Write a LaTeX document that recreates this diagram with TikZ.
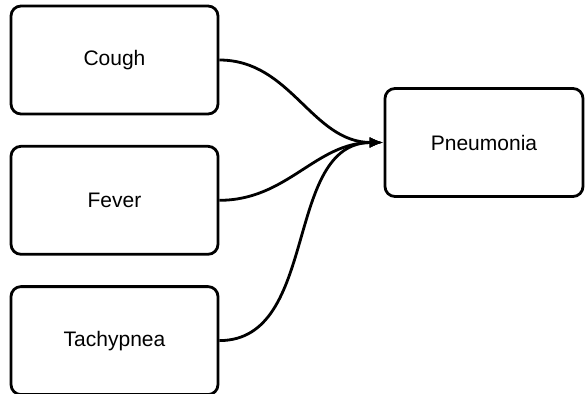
\documentclass[tikz,border=0pt]{standalone}
\usepackage{fontspec}
\setmainfont{Liberation Sans}
\usetikzlibrary{arrows.meta,positioning}

\tikzset{
  symptom/.style={draw, line width=2.8pt, rounded corners=10pt, minimum width=207pt, minimum height=108pt, font=\fontsize{21}{25}\selectfont},
  link/.style={line width=2.8pt, -{Latex[length=14pt,width=11pt]}}
}

\begin{document}
\begin{tikzpicture}[x=1pt,y=-1pt]
    \useasboundingbox (0,0) rectangle (587,394);

    % symptoms
    \node[symptom] (cough) at (114.5,60) {Cough};
    \node[symptom, below=29.5pt of cough] (fever) {Fever};
    \node[symptom, below=29.5pt of fever] (tachy) {Tachypnea};

    % diagnosis
    \node[symptom, minimum width=198pt] (pneu) at (484,142.5) {Pneumonia};

    % links
    \draw[link] (cough.east) to[out=0, in=180] (pneu.west);
    \draw[link] (fever.east) to[out=0, in=180] (pneu.west);
    \draw[link] (tachy.east) to[out=0, in=180] (pneu.west);
  \end{tikzpicture}
\end{document}
